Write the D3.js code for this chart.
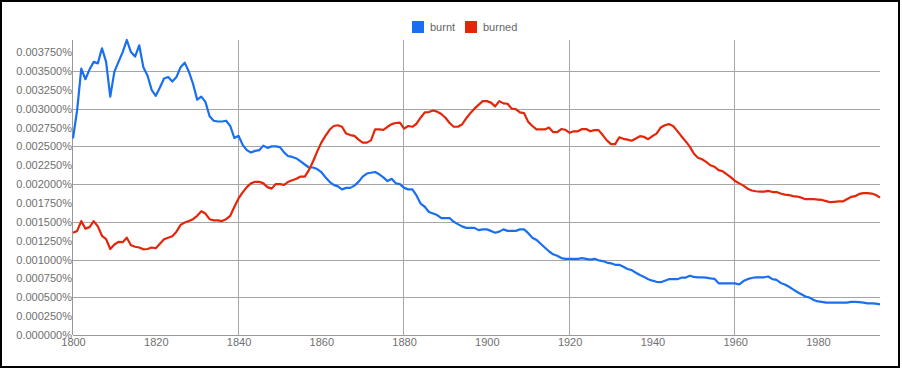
<!DOCTYPE html>
<html>
<head>
<meta charset="utf-8">
<script src="https://cdn.jsdelivr.net/npm/d3@7"></script>
<style>
    body { margin: 0; background: #fff; }
    svg { display: block; font-family: Arial, 'Liberation Sans', sans-serif; }
</style>
</head>
<body>
<div id="chart"></div>
<script>
// values, in units of 0.001 %
const firstYear = 1800;
const burnt = [
    2.605, 2.98, 3.53, 3.39, 3.52, 3.62, 3.60, 3.80, 3.62, 3.16,
    3.49, 3.62, 3.75, 3.91, 3.75, 3.69, 3.84, 3.55, 3.44, 3.25,
    3.17, 3.28, 3.40, 3.42, 3.36, 3.42, 3.55, 3.61, 3.49, 3.33,
    3.12, 3.16, 3.09, 2.90, 2.84, 2.83, 2.83, 2.84, 2.77, 2.61,
    2.64, 2.52, 2.45, 2.42, 2.44, 2.45, 2.51, 2.48, 2.50, 2.50,
    2.49, 2.42, 2.37, 2.36, 2.34, 2.30, 2.26, 2.22, 2.22, 2.20,
    2.16, 2.09, 2.03, 1.99, 1.97, 1.93, 1.95, 1.95, 1.98, 2.03,
    2.10, 2.14, 2.15, 2.16, 2.13, 2.09, 2.04, 2.07, 2.01, 2.00,
    1.95, 1.93, 1.93, 1.85, 1.74, 1.70, 1.63, 1.61, 1.59, 1.55,
    1.55, 1.55, 1.50, 1.47, 1.44, 1.42, 1.42, 1.42, 1.39, 1.40,
    1.40, 1.38, 1.355, 1.37, 1.40, 1.38, 1.38, 1.38, 1.40, 1.40,
    1.35, 1.29, 1.26, 1.21, 1.16, 1.11, 1.07, 1.05, 1.02, 1.01,
    1.01, 1.01, 1.01, 1.02, 1.01, 1.00, 1.01, 0.99, 0.98, 0.96,
    0.95, 0.93, 0.93, 0.905, 0.875, 0.86, 0.825, 0.795, 0.77, 0.74,
    0.72, 0.705, 0.70, 0.72, 0.74, 0.74, 0.74, 0.76, 0.76, 0.785,
    0.77, 0.765, 0.765, 0.76, 0.75, 0.745, 0.685, 0.685, 0.685, 0.685,
    0.685, 0.67, 0.715, 0.74, 0.755, 0.765, 0.765, 0.765, 0.775, 0.74,
    0.73, 0.69, 0.67, 0.64, 0.605, 0.57, 0.54, 0.51, 0.495, 0.465,
    0.445, 0.44, 0.43, 0.43, 0.43, 0.43, 0.43, 0.43, 0.44, 0.44,
    0.435, 0.43, 0.42, 0.42, 0.415, 0.405
];
const burned = [
    1.355, 1.38, 1.51, 1.41, 1.43, 1.51, 1.44, 1.315, 1.27, 1.14,
    1.20, 1.235, 1.23, 1.29, 1.19, 1.17, 1.16, 1.135, 1.14, 1.16,
    1.15, 1.21, 1.27, 1.29, 1.31, 1.37, 1.46, 1.49, 1.51, 1.535,
    1.58, 1.64, 1.61, 1.535, 1.52, 1.52, 1.51, 1.535, 1.58, 1.70,
    1.81, 1.89, 1.96, 2.01, 2.03, 2.03, 2.01, 1.96, 1.94, 2.00,
    2.00, 1.99, 2.03, 2.05, 2.07, 2.10, 2.10, 2.185, 2.30, 2.43,
    2.55, 2.64, 2.72, 2.77, 2.78, 2.76, 2.67, 2.65, 2.64, 2.59,
    2.55, 2.55, 2.58, 2.725, 2.725, 2.72, 2.76, 2.795, 2.81, 2.815,
    2.735, 2.77, 2.76, 2.80, 2.88, 2.95, 2.955, 2.975, 2.96, 2.93,
    2.88, 2.81, 2.76, 2.76, 2.79, 2.87, 2.94, 3.00, 3.05, 3.10,
    3.10, 3.08, 3.03, 3.10, 3.07, 3.065, 3.00, 2.995, 2.95, 2.94,
    2.825, 2.77, 2.725, 2.725, 2.725, 2.75, 2.69, 2.69, 2.73, 2.72,
    2.68, 2.70, 2.70, 2.73, 2.73, 2.70, 2.715, 2.715, 2.65, 2.58,
    2.53, 2.53, 2.62, 2.60, 2.59, 2.575, 2.605, 2.635, 2.625, 2.595,
    2.635, 2.67, 2.75, 2.78, 2.795, 2.77, 2.705, 2.635, 2.57, 2.50,
    2.405, 2.35, 2.33, 2.295, 2.25, 2.23, 2.185, 2.17, 2.13, 2.09,
    2.04, 2.01, 1.98, 1.94, 1.915, 1.905, 1.90, 1.90, 1.91, 1.895,
    1.895, 1.875, 1.86, 1.855, 1.84, 1.835, 1.82, 1.80, 1.80, 1.80,
    1.795, 1.79, 1.775, 1.76, 1.765, 1.77, 1.77, 1.80, 1.83, 1.84,
    1.87, 1.88, 1.88, 1.875, 1.855, 1.82
];
const seriesNames = ['burnt', 'burned'];
const seriesColors = ['#1a6ff0', '#e3260a'];
const xTicks = [1800, 1820, 1840, 1860, 1880, 1900, 1920, 1940, 1960, 1980];
const xGrid = [1840, 1880, 1920, 1960];
const yTicks = [0, 0.00025, 0.0005, 0.00075, 0.001, 0.00125, 0.0015, 0.00175,
    0.002, 0.00225, 0.0025, 0.00275, 0.003, 0.00325, 0.0035, 0.00375];
const yGrid = [0.0005, 0.001, 0.0015, 0.002, 0.0025, 0.003, 0.0035];

const width = 902, height = 369;
const margin = {top: 40, right: 22, bottom: 34, left: 73};

const series = [burnt, burned].map((vals, i) => ({
    name: seriesNames[i],
    color: seriesColors[i],
    points: vals.map((v, j) => ({year: firstYear + j, value: v / 1000}))
}));

const allPoints = series.flatMap(s => s.points);
const x = d3.scaleLinear()
    .domain(d3.extent(allPoints, d => d.year))
    .range([margin.left, width - margin.right]);
const y = d3.scaleLinear()
    .domain([0, d3.max(allPoints, d => d.value)])
    .range([height - margin.bottom, margin.top]);

const svg = d3.select('#chart')
    .append('svg')
    .attr('width', width)
    .attr('height', height);

svg.append('rect')
    .attr('x', 1).attr('y', 1)
    .attr('width', width - 4).attr('height', height - 3)
    .attr('fill', '#fff')
    .attr('stroke', '#000')
    .attr('stroke-width', 2);

// grid
svg.append('g')
    .selectAll('line')
    .data(yGrid)
    .join('line')
    .attr('x1', margin.left).attr('x2', width - margin.right)
    .attr('y1', d => Math.round(y(d)) + 0.5).attr('y2', d => Math.round(y(d)) + 0.5)
    .attr('stroke', '#a6a6a6');

svg.append('g')
    .selectAll('line')
    .data(xGrid)
    .join('line')
    .attr('x1', d => Math.round(x(d)) - 0.5).attr('x2', d => Math.round(x(d)) - 0.5)
    .attr('y1', margin.top).attr('y2', height - margin.bottom)
    .attr('stroke', '#a6a6a6');

// axis lines
svg.append('line')
    .attr('x1', margin.left - 0.5).attr('x2', margin.left - 0.5)
    .attr('y1', margin.top).attr('y2', height - margin.bottom)
    .attr('stroke', '#999');
svg.append('line')
    .attr('x1', margin.left).attr('x2', width - margin.right)
    .attr('y1', height - margin.bottom + 0.5).attr('y2', height - margin.bottom + 0.5)
    .attr('stroke', '#999');

const yAxis = svg.append('g')
    .attr('transform', `translate(${margin.left},0)`)
    .call(d3.axisLeft(y)
        .tickValues(yTicks)
        .tickSize(0)
        .tickPadding(1)
        .tickFormat(d => d3.format('.6f')(d * 100 / 100) + '%'));
yAxis.select('.domain').remove();

const xAxis = svg.append('g')
    .attr('transform', `translate(0,${height - margin.bottom})`)
    .call(d3.axisBottom(x)
        .tickValues(xTicks)
        .tickSize(0)
        .tickPadding(3)
        .tickFormat(d3.format('d')));
xAxis.select('.domain').remove();

svg.selectAll('.tick text')
    .attr('font-size', 11)
    .attr('font-family', "Arial, 'Liberation Sans', sans-serif")
    .attr('fill', '#707070');

// lines
const line = d3.line()
    .x(d => x(d.year))
    .y(d => y(d.value));

svg.append('g')
    .selectAll('path')
    .data(series)
    .join('path')
    .attr('d', d => line(d.points))
    .attr('fill', 'none')
    .attr('stroke', d => d.color)
    .attr('stroke-width', 2.2)
    .attr('stroke-linejoin', 'round');

// legend
const legendX = [412, 465];
const legend = svg.append('g')
    .selectAll('g')
    .data(series)
    .join('g')
    .attr('transform', (d, i) => `translate(${legendX[i]},21)`);
legend.append('rect')
    .attr('width', 12).attr('height', 12)
    .attr('fill', d => d.color);
legend.append('text')
    .attr('x', 18).attr('y', 10)
    .attr('font-size', 11)
    .attr('fill', '#666')
    .text(d => d.name);
</script>
</body>
</html>
